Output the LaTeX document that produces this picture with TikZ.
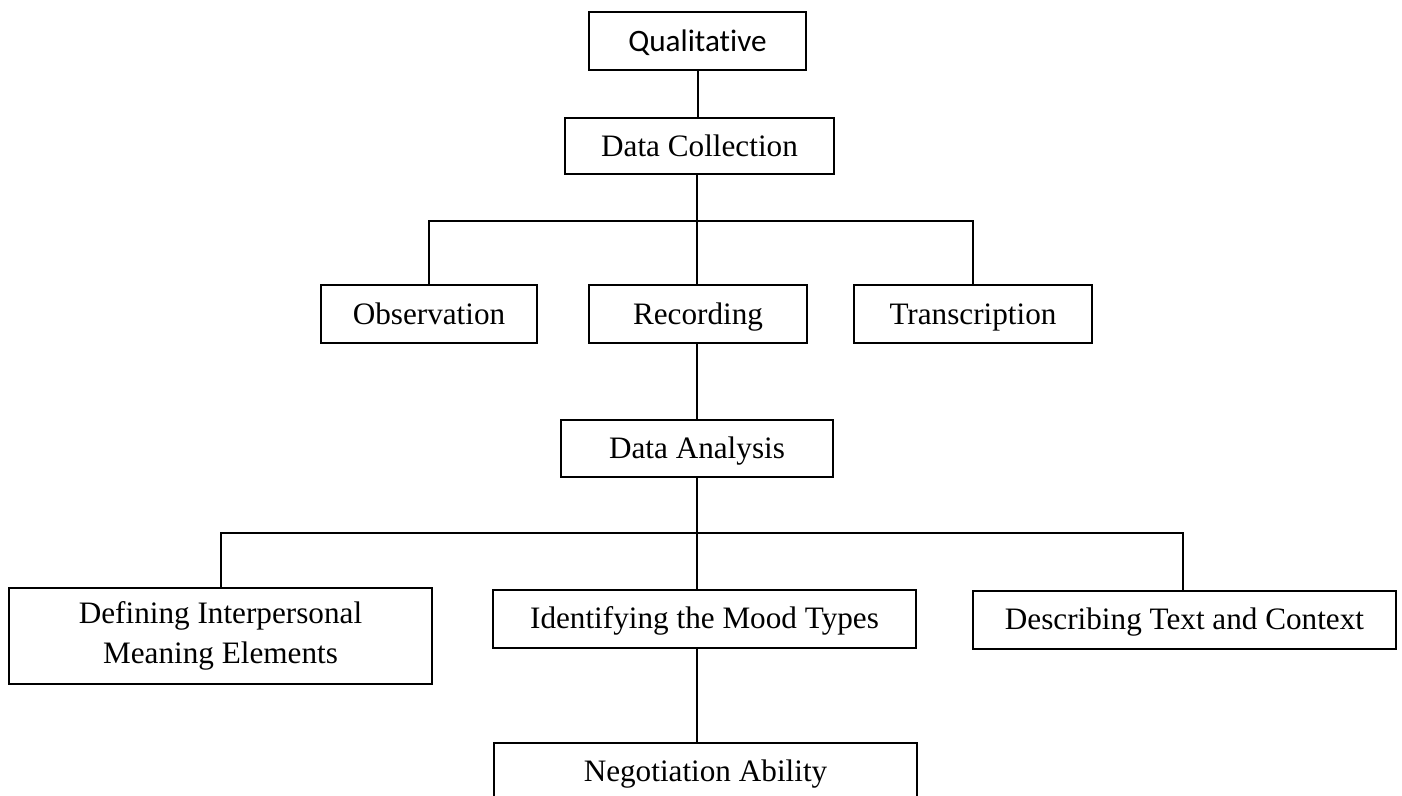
\documentclass[tikz,border=0pt]{standalone}
\usepackage{fontspec}
\setmainfont{Liberation Serif}
\newfontfamily\calibri[Ligatures=NoCommon]{Carlito}
\usepackage{tikz}

\begin{document}
\begin{tikzpicture}[x=0.5pt,y=-0.5pt,line width=1pt,
  wbox/.style={draw,line width=1pt,inner sep=0pt,minimum height=29pt,
    font=\fontsize{15.6}{20}\selectfont,align=center},
  box/.style={wbox,text height=12pt,text depth=1.7pt}]
\clip (0,0) rectangle (1402,796);
\node[box,minimum width=108.5pt,font=\calibri\fontsize{15.6}{20}\selectfont] (qual) at (697.5,41) {Qualitative};
\node[box,minimum width=134.5pt,minimum height=28pt] (collect) at (699.5,146) {Data Collection};
\node[box,minimum width=108pt] (obs) at (429,314) {Observation};
\node[box,minimum width=109pt] (rec) at (698,314) {Recording};
\node[box,minimum width=119pt] (trans) at (973,314) {Transcription};
\node[box,minimum width=136pt,minimum height=28.5pt] (ana) at (697,448.5) {Data Analysis};
\node[wbox,minimum width=211.5pt,minimum height=48pt] (def) at (220.5,636) {Defining Interpersonal\\Meaning Elements};
\node[box,minimum width=211.5pt] (ident) at (704.5,618.5) {Identifying the Mood Types};
\node[box,minimum width=211.5pt] (desc) at (1184.5,619.5) {Describing Text and Context};
\node[box,minimum width=211.5pt] (neg) at (705.5,771.5) {Negotiation Ability};
\coordinate (bus1) at (697,221);
\coordinate (bus2) at (697,533);
\coordinate (topdesc) at (1183,533);
\draw (qual.south) -- (qual.south |- collect.north);
\draw (bus1 |- collect.south) -- (bus1 |- rec.north);
\draw (obs.north) |- (bus1) -| (trans.north);
\draw (bus1 |- rec.south) -- (bus1 |- ana.north);
\draw (bus2 |- ana.south) -- (bus2 |- ident.north);
\draw (def.north) |- (bus2) -- (topdesc) -- (topdesc |- desc.north);
\draw (bus2 |- ident.south) -- (bus2 |- neg.north);
\end{tikzpicture}
\end{document}
